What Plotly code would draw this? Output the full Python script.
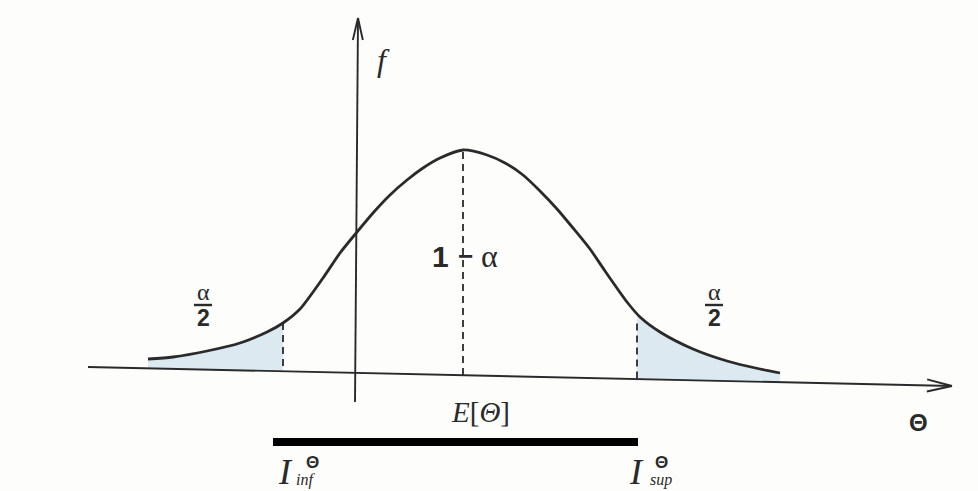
import numpy as np
import plotly.graph_objects as go

# Density curve f(Θ), sampled along the drawing (horizontal position, height)
theta = [148, 173, 207, 240, 267, 283, 300, 323, 340, 357, 373, 390, 407, 423,
         440, 463, 487, 505, 523, 540, 557, 573, 590, 605, 627, 640, 660, 693,
         727, 760, 780]
dens = [359, 357, 351, 343, 332, 323, 309, 278, 253, 232, 213, 195, 180, 168,
        158, 150, 155, 163, 175, 191, 209, 228, 249, 271, 302, 317, 332, 349,
        361, 369, 373]

# Θ axis (slightly slanted) and f axis end points
theta_axis_x = [88, 952]
theta_axis_y = [367, 386]
f_axis_x = [355, 358]
f_axis_y = [402, 18]

# tail cut-offs, mean, and confidence interval
cut_left, cut_right = 283, 637
mean_pos = 463
interval = [273, 638]
interval_level = 442

INK = "#2a2a2a"
SHADE = "#dce9f1"
SERIF = "Liberation Serif, DejaVu Serif, serif"
SANS = "Liberation Sans, Arial, sans-serif"

th = np.array(theta, float)
fd = np.array(dens, float)


def axis_y(x):
    return np.interp(x, theta_axis_x, theta_axis_y)


def curve_y(x):
    return np.interp(x, th, fd)


fig = go.Figure()

# shaded tails (α/2 each)
for lo, hi in [(th[0], cut_left), (cut_right, th[-1])]:
    mask = (th > lo) & (th < hi)
    xs = np.concatenate([[lo], th[mask], [hi]])
    ys = curve_y(xs)
    px = np.concatenate([xs, xs[::-1]])
    py = np.concatenate([ys, axis_y(xs[::-1])])
    fig.add_trace(go.Scatter(x=px, y=py, mode="lines", fill="toself",
                             fillcolor=SHADE, line=dict(width=0),
                             hoverinfo="skip"))

# density curve
fig.add_trace(go.Scatter(x=theta, y=dens, mode="lines",
                         line=dict(color=INK, width=2.8, shape="spline",
                                   smoothing=0.7),
                         hoverinfo="skip"))

# dashed verticals at the cut-offs and at the mean
for xv, top in [(cut_left, curve_y(cut_left)), (mean_pos, curve_y(mean_pos) + 2),
                (cut_right, curve_y(cut_right) + 10)]:
    fig.add_trace(go.Scatter(x=[xv, xv], y=[top, axis_y(xv)], mode="lines",
                             line=dict(color=INK, width=1.8, dash="7px,5px"),
                             hoverinfo="skip"))

# confidence interval bar
fig.add_trace(go.Scatter(x=interval, y=[interval_level, interval_level],
                         mode="lines", line=dict(color="#000000", width=8),
                         hoverinfo="skip"))

shapes = []


def arrow(x0, y0, x1, y1, length, half):
    d = np.array([x1 - x0, y1 - y0], float)
    u = d / np.hypot(*d)
    n = np.array([-u[1], u[0]])
    tip = np.array([x1, y1], float)
    out = [dict(type="line", x0=x0, y0=y0, x1=x1, y1=y1)]
    for s in (1, -1):
        b = tip - length * u + s * half * n
        out.append(dict(type="line", x0=b[0], y0=b[1], x1=x1, y1=y1))
    for o in out:
        o.update(xref="x", yref="y", line=dict(color=INK, width=1.9))
    return out


shapes += arrow(theta_axis_x[0], theta_axis_y[0], theta_axis_x[1], theta_axis_y[1], 25, 6)
shapes += arrow(f_axis_x[0], f_axis_y[0], f_axis_x[1], f_axis_y[1], 22, 5)

# fraction bars of the α/2 labels
for cx in (203, 714):
    shapes.append(dict(type="line", xref="x", yref="y", x0=cx - 9, x1=cx + 9,
                       y0=305, y1=305, line=dict(color=INK, width=2.4)))

ann = []


def txt(x, y, s, size, family=SERIF, color=INK):
    ann.append(dict(x=x, y=y, xref="x", yref="y", text=s, showarrow=False,
                    font=dict(size=size, family=family, color=color),
                    xanchor="center", yanchor="middle"))


txt(383, 60, "<i>f</i>", 32)
txt(203, 292, "α", 24)
txt(203, 318, "<b>2</b>", 23, SANS)
txt(714, 292, "α", 24)
txt(714, 318, "<b>2</b>", 23, SANS)
txt(440, 256, "<b>1</b>", 30, SANS)
txt(465, 256, "<b>−</b>", 26, SANS)
txt(489, 256, "α", 32)
txt(480, 412, "<i>E</i>[<i>Θ</i>]", 29)
txt(918, 422, "<b>Θ</b>", 24, SANS)
txt(285, 472, "<i>I</i>", 36)
txt(312, 462, "<b>Θ</b>", 17, SANS)
txt(305, 480, "<i>inf</i>", 16)
txt(636, 472, "<i>I</i>", 36)
txt(661, 462, "<b>Θ</b>", 17, SANS)
txt(661, 480, "<i>sup</i>", 16)

fig.update_layout(
    width=978, height=491, autosize=False,
    margin=dict(l=0, r=0, t=0, b=0),
    paper_bgcolor="#fdfdfb", plot_bgcolor="#fdfdfb",
    showlegend=False,
    xaxis=dict(range=[0, 978], visible=False, fixedrange=True),
    yaxis=dict(range=[491, 0], visible=False, fixedrange=True),
    shapes=shapes, annotations=ann,
)

fig.write_html("out.html")
